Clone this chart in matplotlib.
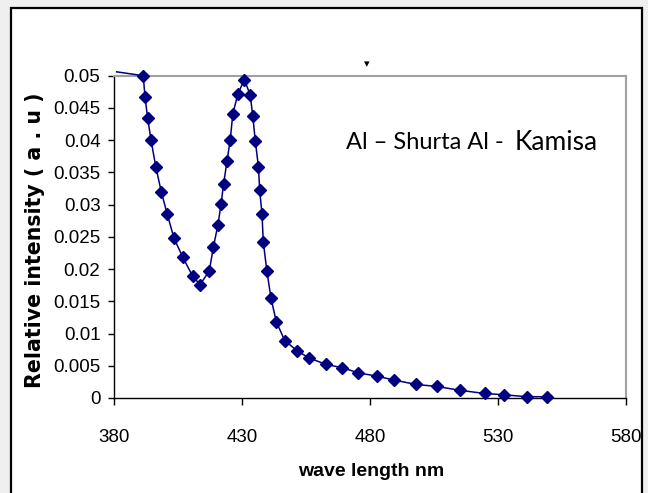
import matplotlib
matplotlib.use("Agg")
import matplotlib.pyplot as plt
from matplotlib.patches import Rectangle
from matplotlib.ticker import FixedLocator, FixedFormatter

# Emission spectrum (wavelength in nm, relative intensity in a.u.)
wavelength = [380.9, 391.3, 392.0, 393.0, 394.3, 396.2, 398.4, 400.7, 403.3, 406.8,
              410.6, 413.5, 417.1, 418.7, 420.5, 421.7, 422.7, 424.0, 425.3, 426.3,
              428.3, 430.8, 433.1, 434.1, 435.1, 436.3, 436.8, 437.7, 438.2, 439.6,
              441.2, 443.3, 446.6, 451.5, 456.1, 462.8, 469.1, 475.3, 482.5, 489.1,
              497.9, 505.9, 514.9, 524.7, 532.2, 541.1, 549.1]
intensity = [0.0506, 0.0500, 0.0467, 0.0435, 0.0401, 0.0359, 0.0319, 0.0285, 0.0248, 0.0218,
             0.0189, 0.0176, 0.0197, 0.0234, 0.0269, 0.0301, 0.0332, 0.0367, 0.0401, 0.0441,
             0.0472, 0.0494, 0.0470, 0.0437, 0.0398, 0.0359, 0.0322, 0.0285, 0.0242, 0.0197,
             0.0155, 0.0118, 0.0089, 0.0073, 0.0062, 0.0052, 0.0047, 0.0039, 0.0034, 0.0028,
             0.0021, 0.0018, 0.0012, 0.0007, 0.0005, 0.0002, 0.0002]

x_ticks = [380, 430, 480, 530, 580]
x_tick_labels = ["380", "430", "480", "530", "580"]
y_ticks = [0, 0.005, 0.01, 0.015, 0.02, 0.025, 0.03, 0.035, 0.04, 0.045, 0.05]
y_tick_labels = ["0", "0.005", "0.01", "0.015", "0.02", "0.025", "0.03", "0.035",
                 "0.04", "0.045", "0.05"]

x_label = "wave length nm"
y_label = "Relative intensity ( a . u )"
sample_name = "Al \u2013 Shurta Al -"
sample_place = "Kamisa"

W, H = 648, 493
fig = plt.figure(figsize=(W / 100, H / 100), dpi=100, facecolor="#efefef")

# white chart area with black frame (open at the bottom edge)
fig.patches.append(Rectangle((11 / W, -0.05), (642 - 11) / W, 1.05 - 8 / H,
                             transform=fig.transFigure, facecolor="white",
                             edgecolor="black", linewidth=1.6, zorder=-10))

ax = fig.add_axes([114.3 / W, 1 - 398 / H, 512 / W, (398 - 75.7) / H])
ax.set_zorder(1)
ax.set_facecolor("white")
ax.set_xlim(380, 580)
ax.set_ylim(0, 0.05)

ax.plot(wavelength, intensity, color="#000080", linewidth=1.1, marker="D",
        markersize=6.5, markevery=list(range(1, len(wavelength))),
        clip_on=False, zorder=5)

tick_family = ["Liberation Sans", "DejaVu Sans"]
ax.xaxis.set_major_locator(FixedLocator(x_ticks))
ax.xaxis.set_major_formatter(FixedFormatter(x_tick_labels))
ax.yaxis.set_major_locator(FixedLocator(y_ticks))
ax.yaxis.set_major_formatter(FixedFormatter(y_tick_labels))
for lab in ax.get_xticklabels() + ax.get_yticklabels():
    lab.set_fontfamily(tick_family)
    lab.set_fontsize(13.5)
ax.tick_params(axis="x", direction="out", length=5, width=1, pad=17, colors="black")
ax.tick_params(axis="y", direction="out", length=4, width=1, pad=6, colors="black")

for side in ("top", "right"):
    ax.spines[side].set_color("#a0a0a0")
    ax.spines[side].set_linewidth(1.5)
for side in ("left", "bottom"):
    ax.spines[side].set_color("black")
    ax.spines[side].set_linewidth(1.0)

fig.text(371 / W, 1 - 471 / H, x_label, ha="center", va="center",
         fontsize=14, fontweight="bold", family=["Liberation Sans", "DejaVu Sans"])
fig.text(35 / W, 1 - 240 / H, y_label, ha="center", va="center", rotation=90,
         fontsize=14.8, fontweight="bold", family=["DejaVu Sans"])

fig.text(346 / W, 1 - 143 / H, sample_name, ha="left", va="center",
         fontsize=17, family=["Lato", "DejaVu Sans"])
fig.text(598 / W, 1 - 142 / H, sample_place, ha="right", va="center",
         fontsize=19, family=["Lato", "DejaVu Sans"])

# small stray mark above the plot area
fig.text(367 / W, 1 - 64 / H, "\u25BE", ha="center", va="center", fontsize=8,
         color="black", family=["DejaVu Sans"])

fig.savefig("out.png", dpi=100, facecolor=fig.get_facecolor())
